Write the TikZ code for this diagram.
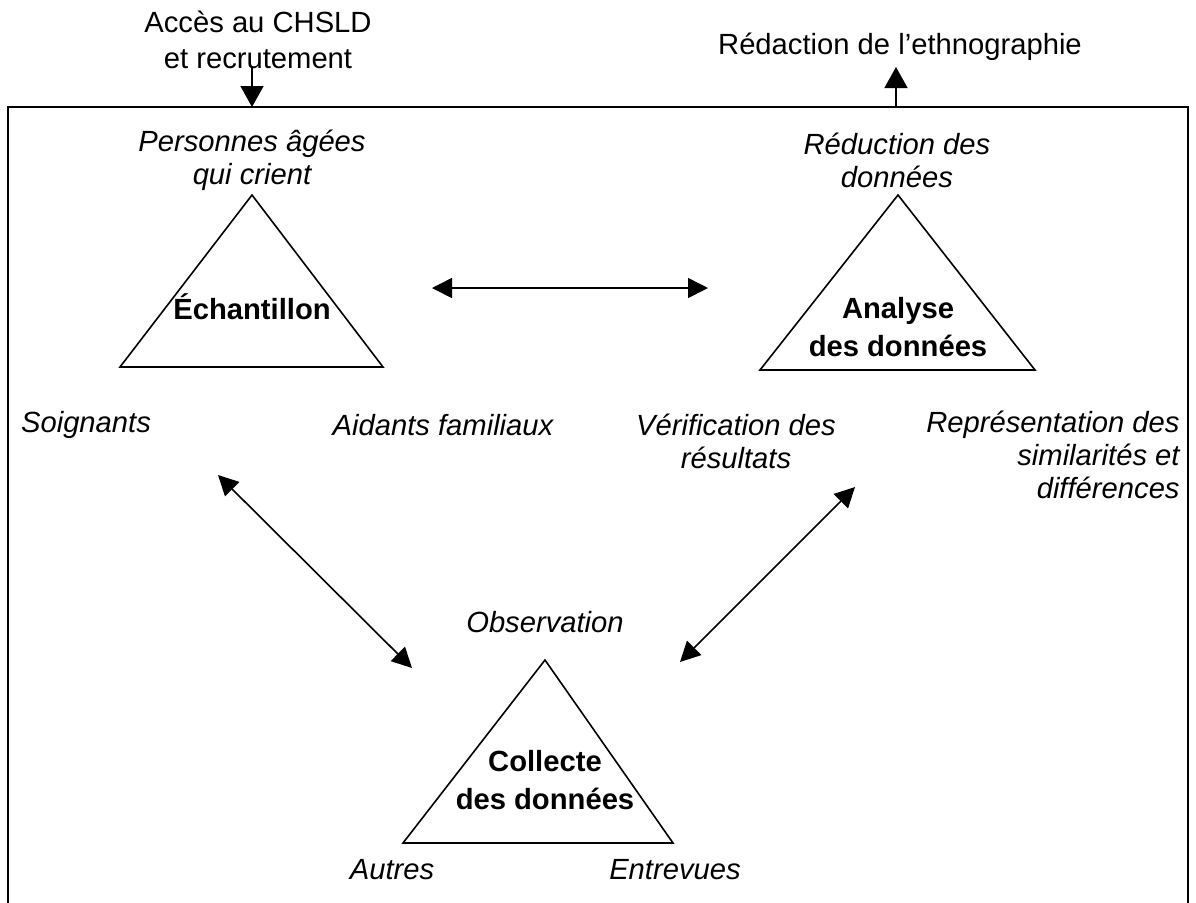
\documentclass[tikz,border=0pt]{standalone}
\usepackage{fontspec}
\setmainfont{Liberation Sans}
\usetikzlibrary{arrows.meta}
\begin{document}
\begin{tikzpicture}[x=0.5pt,y=-0.5pt,
  lbl/.style={inner sep=0pt,align=center,font=\fontsize{14.6}{16.5}\selectfont},
  ilbl/.style={lbl,font=\fontsize{14.6}{16.5}\selectfont\itshape},
  blbl/.style={lbl,font=\fontsize{14.6}{19}\selectfont\bfseries},
  tri/.style={line width=0.8pt,line join=miter},
  arr/.style={line width=0.8pt,-{Triangle[length=10.5pt,width=11.5pt]}},
  darr/.style={line width=0.8pt,{Triangle[length=10pt,width=10pt]}-{Triangle[length=10pt,width=10pt]}}]
\useasboundingbox (0,0) rectangle (1196,902);
% frame (bottom edge lies outside the picture)
\draw[line width=1pt] (8,910) -- (8,107) -- (1188,107) -- (1188,910);
% top texts and arrows
\node[lbl,font=\fontsize{14.6}{18}\selectfont] (acces) at (258,40) {Accès au CHSLD\\et recrutement};
\coordinate (accA) at (252,68);
\coordinate (accB) at (252,107);
\draw[arr] (accA) -- (accB);
\node[lbl] (redac) at (900,47) {Rédaction de l’ethnographie};
\coordinate (redA) at (896,107);
\coordinate (redB) at (896,67);
\draw[arr] (redA) -- (redB);
% triangle 1
\coordinate (t1a) at (252,195);
\coordinate (t1l) at (120,367);
\coordinate (t1r) at (383,367);
\draw[tri] (t1a) -- (t1l) -- (t1r) -- cycle;
\node[blbl] (ech) at (252,307) {Échantillon};
\node[ilbl] (pers) at (252,160) {Personnes âgées\\qui crient};
\node[ilbl] (soig) at (86,425) {Soignants};
\node[ilbl] (aid) at (443,425) {Aidants familiaux};
% triangle 2
\coordinate (t2a) at (898,195);
\coordinate (t2l) at (760,370);
\coordinate (t2r) at (1035,370);
\draw[tri] (t2a) -- (t2l) -- (t2r) -- cycle;
\node[blbl] (ana) at (898,327) {Analyse\\des données};
\node[ilbl] (redu) at (897,160) {Réduction des\\données};
\node[ilbl] (verif) at (736,441) {Vérification des\\résultats};
\node[ilbl,align=right,anchor=north east] (repr) at (1180,411) {Représentation des\\similarités et\\différences};
% triangle 3
\coordinate (t3a) at (545,660);
\coordinate (t3l) at (403,843);
\coordinate (t3r) at (673,843);
\draw[tri] (t3a) -- (t3l) -- (t3r) -- cycle;
\node[blbl] (coll) at (545,780) {Collecte\\des données};
\node[ilbl] (obs) at (545,622) {Observation};
\node[ilbl] (autr) at (392,870) {Autres};
\node[ilbl] (entr) at (675,870) {Entrevues};
% connectors
\coordinate (h1) at (432,288);
\coordinate (h2) at (708,288);
\draw[darr] (h1) -- (h2);
\coordinate (d1a) at (218,475);
\coordinate (d1b) at (412,668);
\draw[darr] (d1a) -- (d1b);
\coordinate (d2a) at (855,487);
\coordinate (d2b) at (680,662);
\draw[darr] (d2a) -- (d2b);
\end{tikzpicture}
\end{document}
